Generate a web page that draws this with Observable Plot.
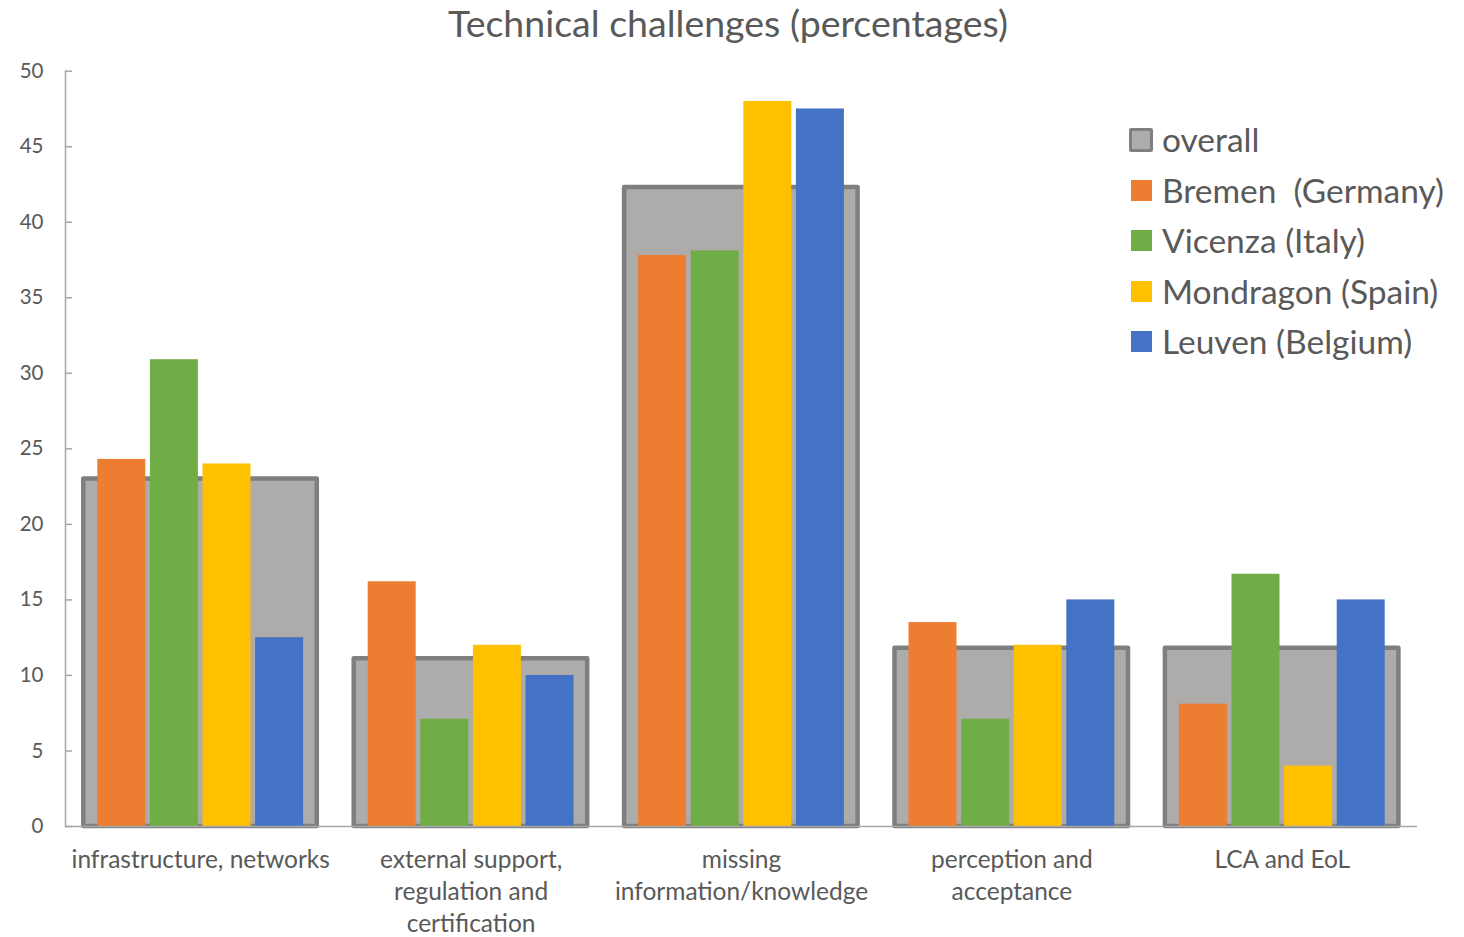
<!DOCTYPE html>
<html>
<head>
<meta charset="utf-8">
<script src="https://cdn.jsdelivr.net/npm/d3@7"></script>
<script src="https://cdn.jsdelivr.net/npm/@observablehq/plot@0.6"></script>
<style>
  html, body { margin: 0; padding: 0; background: #ffffff; }
  #wrap { position: relative; width: 1464px; height: 937px; font-family: Lato, "Open Sans", sans-serif; color: #595959; }
  #title { height: 50px; line-height: 46px; font-size: 37.5px; text-align: center; padding-right: 8px; box-sizing: border-box; width: 1464px; white-space: nowrap; overflow: visible; }
  #legend { position: absolute; left: 1129px; top: 115px; }
  .row { display: flex; align-items: center; height: 50.4px; }
  .mcol { width: 24px; display: flex; justify-content: center; align-items: center; margin-right: 9px; }
  .sw { width: 21px; height: 21px; box-sizing: border-box; }
  .lab { font-size: 33.5px; white-space: pre; line-height: 1; }
</style>
</head>
<body>
<div id="wrap">
  <div id="title">Technical challenges (percentages)</div>
  <div id="chart"></div>
  <div id="legend"></div>
</div>
<script>
// ---- data ----
const categories = [
  "infrastructure, networks",
  "external support, regulation and certification",
  "missing information/knowledge",
  "perception and acceptance",
  "LCA and EoL"
];
const categoryLabels = [
  "infrastructure, networks",
  "external support,\nregulation and\ncertification",
  "missing\ninformation/knowledge",
  "perception and\nacceptance",
  "LCA and EoL"
];
const cities = ["Bremen  (Germany)", "Vicenza (Italy)", "Mondragon (Spain)", "Leuven (Belgium)"];
const overall   = [23.0, 11.1, 42.3, 11.8, 11.8];
const bremen    = [24.3, 16.2, 37.8, 13.5, 8.1];
const vicenza   = [30.9, 7.1, 38.1, 7.1, 16.7];
const mondragon = [24.0, 12.0, 48.0, 12.0, 4.0];
const leuven    = [12.5, 10.0, 47.5, 15.0, 15.0];
const yTicks = [0, 5, 10, 15, 20, 25, 30, 35, 40, 45, 50];
const overallLabel = "overall";
const cityColors = ["#ED7D31", "#70AD47", "#FFC000", "#4472C4"];
const overallFill = "#AEABAB";
const overallStroke = "#7F7F7F";

// ---- tables ----
const overallRows = categories.map((c, i) => ({category: c, value: overall[i]}));
const citySeries = [bremen, vicenza, mondragon, leuven];
const cityRows = [];
categories.forEach((c, i) => {
  cities.forEach((city, j) => cityRows.push({category: c, city, value: citySeries[j][i]}));
});
const labelOf = new Map(categories.map((c, i) => [c, categoryLabels[i]]));

const plot = Plot.plot({
  width: 1464,
  height: 887,
  marginTop: 20.7,
  marginBottom: 111,
  marginLeft: 65,
  marginRight: 47,
  style: {fontFamily: "Lato, 'Open Sans', sans-serif", color: "#595959", background: "#ffffff", overflow: "visible"},
  fx: {domain: categories, paddingInner: 0, paddingOuter: 0, round: false, axis: null, label: null},
  x: {domain: cities, paddingInner: 0.0875, paddingOuter: 0.614, round: false, axis: null, label: null},
  y: {domain: [0, 50], axis: null, label: null},
  color: {domain: cities, range: cityColors},
  marks: [
    Plot.barY(overallRows, {fx: "category", y: "value", fill: overallFill, stroke: overallStroke, strokeWidth: 4.5, strokeLinejoin: "round", insetLeft: 18.3, insetRight: 18.6}),
    Plot.barY(cityRows, {fx: "category", x: "city", y: "value", fill: "city"}),
    Plot.ruleY([0], {stroke: "#A6A6A6", strokeWidth: 1.5}),
    Plot.frame({anchor: "left", facetAnchor: "left", stroke: "#A6A6A6", strokeWidth: 1.5}),
    Plot.axisY({ticks: yTicks, tickSize: -7, tickPadding: 29, fontSize: 20.5, stroke: "#A6A6A6", strokeWidth: 1.5, fill: "#595959", label: null}),
    Plot.axisFx({anchor: "bottom", tickSize: 0, tickPadding: 19, fontSize: 24.5, lineHeight: 1.31, fill: "#595959", tickFormat: d => labelOf.get(d), label: null})
  ]
});
document.getElementById("chart").appendChild(plot);

// ---- legend ----
const legend = document.getElementById("legend");
const items = [{label: overallLabel, fill: overallFill, overall: true}]
  .concat(cities.map((c, j) => ({label: c, fill: cityColors[j], overall: false})));
items.forEach(it => {
  const row = document.createElement("div");
  row.className = "row";
  const mcol = document.createElement("div");
  mcol.className = "mcol";
  const sw = document.createElement("div");
  sw.className = "sw";
  sw.style.background = it.fill;
  if (it.overall) {
    sw.style.width = "24px";
    sw.style.height = "24px";
    sw.style.border = "3.5px solid " + overallStroke;
    sw.style.borderRadius = "2px";
  }
  mcol.appendChild(sw);
  const lab = document.createElement("div");
  lab.className = "lab";
  lab.textContent = it.label;
  row.appendChild(mcol);
  row.appendChild(lab);
  legend.appendChild(row);
});
</script>
</body>
</html>
